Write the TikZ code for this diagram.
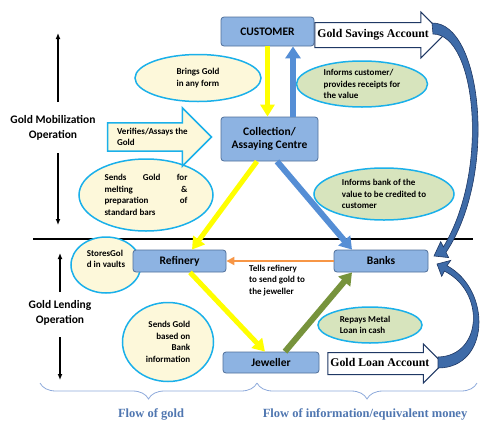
\documentclass[tikz,border=0pt]{standalone}
\usepackage{fontspec}
\setmainfont{Carlito}
\newfontfamily\serifb{Liberation Serif}
\usetikzlibrary{shapes.geometric,shapes.arrows,arrows.meta,decorations.pathreplacing,calc}
\definecolor{boxfill}{HTML}{8DB3E2}
\definecolor{boxline}{HTML}{4F6F9A}
\definecolor{ellyel}{HTML}{FDF8DA}
\definecolor{ellgrn}{HTML}{D7E4BD}
\definecolor{cyanb}{HTML}{1AB0EA}
\definecolor{yarrow}{HTML}{FFFF00}
\definecolor{barrow}{HTML}{558ED5}
\definecolor{garrow}{HTML}{77933C}
\definecolor{oarrow}{HTML}{F79646}
\definecolor{navy}{HTML}{1F3864}
\definecolor{curvb}{HTML}{3E6BA8}
\definecolor{bracec}{HTML}{8EAADB}
\definecolor{flowtxt}{HTML}{4F76B0}
\begin{document}
\begin{tikzpicture}[x=1pt,y=-1pt,
  box/.style={draw=boxline,fill=boxfill,rounded corners=3pt,line width=0.8pt,inner sep=0pt,
    font=\fontsize{11.5}{13}\selectfont\bfseries},
  ell/.style={ellipse,draw=cyanb,line width=1.5pt,inner sep=0pt,font=\fontsize{9}{11.5}\selectfont\bfseries},
  yell/.style={ell,fill=ellyel},
  gell/.style={ell,fill=ellgrn},
  small/.style={inner sep=0pt,font=\fontsize{9}{11.5}\selectfont\bfseries},
  lab/.style={inner sep=0pt,align=center,font=\fontsize{11.5}{15}\selectfont\bfseries},
  acct/.style={single arrow,draw=navy,fill=white,line width=1pt,inner xsep=2pt,
    font=\fontsize{11.8}{13}\selectfont\serifb\bfseries,text height=8pt,text depth=2.5pt},
  yarr/.style={draw=yarrow,line width=5pt,-{Triangle[width=14pt,length=12pt]}},
  barr/.style={draw=barrow,line width=6pt,-{Triangle[width=15pt,length=12pt]}},
  garr/.style={draw=garrow,line width=6pt,-{Triangle[width=15pt,length=12pt]}},
  oarr/.style={draw=oarrow,line width=2.5pt,-{Triangle[width=8pt,length=8pt]}},
  blk/.style={draw=black,line width=1.3pt,-{Latex[length=6pt,width=5pt]}},
  bracest/.style={draw=bracec,line width=0.8pt,decorate,decoration={brace,mirror,amplitude=16pt}},
  flow/.style={inner sep=0pt,text=flowtxt,font=\fontsize{12.5}{14}\selectfont\serifb\bfseries},
  curv/.style={fill=curvb,draw=navy,line width=0.6pt}]
\useasboundingbox (0,0) rectangle (485,437);

% separator
\coordinate (sepL) at (33,239);
\coordinate (sepR) at (473,239);
\draw[line width=1.5pt] (sepL) -- (sepR);

% ellipses
\node[yell,minimum width=126pt,minimum height=47pt,align=left] (e1) at (198,78) {Brings Gold\\in any form};
\node[gell,minimum width=131pt,minimum height=46pt,align=left] (e2) at (362,84) {Informs customer/\\provides receipts for\\the value};
\node[yell,minimum width=134pt,minimum height=72pt,align=left] (e3) at (146,195)
  {\makebox[83pt][s]{Sends\hfill Gold\hfill for}\\\makebox[83pt][s]{melting\hfill \&}\\\makebox[83pt][s]{preparation\hfill of}\\standard bars};
\node[gell,minimum width=140pt,minimum height=52pt,align=left] (e4) at (384,194) {Informs bank of the\\value to be credited to\\customer};
\node[yell,minimum width=70pt,minimum height=56pt] (e5) at (106,265) {};
\node[small,align=left] (t5) at ([yshift=6pt]e5.center) {StoresGol\\d in vaults};
\node[yell,minimum width=91pt,minimum height=79pt,align=right] (e6) at (168,342) {Sends Gold\\based on\\Bank\\information};
\node[gell,minimum width=104pt,minimum height=36pt] (e7) at (370,325) {};
\node[small,align=left] (t7) at ([xshift=-5pt]e7.center) {Repays Metal\\Loan in cash};

% boxes
\node[box,minimum width=93pt,minimum height=29pt] (cust) at (267.5,31.5) {CUSTOMER};
\node[box,minimum width=97pt,minimum height=44pt,align=center] (coll) at (269.5,139) {Collection/\\Assaying Centre};
\node[box,minimum width=93pt,minimum height=22pt] (ref) at (179.5,261) {Refinery};
\node[box,minimum width=94pt,minimum height=22pt] (bank) at (381,261) {Banks};
\node[box,minimum width=96pt,minimum height=21pt] (jew) at (271,362.5) {Jeweller};

% verifies arrow
\node[single arrow,draw=cyanb,fill=ellyel,line width=1.5pt,small,align=left,
  single arrow head extend=15pt,minimum height=104pt,inner ysep=4.5pt,inner xsep=2pt,anchor=tip]
  (ver) at ([xshift=-8pt,yshift=2pt]coll.west) {Verifies/Assays the\\Gold};

% account arrows
\node[acct,single arrow head extend=10.5pt,minimum height=119pt,inner ysep=6.75pt,anchor=tail]
  (sav) at ([yshift=-3.5pt]cust.east) {Gold Savings Account};
\node[acct,single arrow head extend=8.5pt,minimum height=111pt,inner ysep=5.25pt,anchor=tail]
  (loan) at ([xshift=8pt,yshift=-1pt]jew.east) {Gold Loan Account};

% flow arrows
\draw[yarr] (cust.south) -- (coll.north -| cust.south);
\draw[barr] ([xshift=25.5pt]coll.north -| cust.south) -- ([xshift=25.5pt]cust.south);
\draw[yarr] ([xshift=-12.5pt]coll.south) -- ([xshift=12.5pt]ref.north);
\draw[barr] ([xshift=7.5pt]coll.south) -- ([xshift=-29pt]bank.north);
\draw[yarr] ([xshift=10.5pt]ref.south) -- ([xshift=-6pt]jew.north);
\draw[garr] ([xshift=14pt]jew.north) -- ([xshift=-29pt]bank.south);
\draw[oarr] (bank.west) -- (ref.east);
\node[small,align=left,anchor=west] (tell) at (249,280.5) {Tells refinery\\to send gold to\\the jeweller};

% curved arrows
\draw[curv] (432,23) .. controls (482,22) and (498,175) .. (446,252.3) -- (448.7,257.6) -- (434,256)
  -- (440.7,241.6) -- (443.4,246.9) .. controls (490,170) and (476,34) .. (433,34) -- cycle;
\draw[curv] (438,368) .. controls (490,368) and (492,290) .. (447,265.7) -- (450.7,260.4) -- (437,264)
  -- (441.7,276.4) -- (444.4,271.1) .. controls (486,292) and (482,356) .. (438,357) -- cycle;

% left labels
\node[lab] (mob) at (53,127.5) {Gold Mobilization\\Operation};
\coordinate (m1) at (58,102); \coordinate (m1t) at (58,33);
\coordinate (m2) at (58,153); \coordinate (m2t) at (58,225);
\draw[blk] (m1) -- (m1t);
\draw[blk] (m2) -- (m2t);
\node[lab] (lend) at (60,313) {Gold Lending\\Operation};
\coordinate (l1) at (60,292); \coordinate (l1t) at (60,253);
\coordinate (l2) at (60,337); \coordinate (l2t) at (60,380);
\draw[blk] (l1) -- (l1t);
\draw[blk] (l2) -- (l2t);

% braces
\coordinate (b1) at (40,383); \coordinate (b2) at (257,383); \coordinate (b3) at (477,383);
\draw[bracest] (b1) -- (b2);
\draw[bracest] (b2) -- (b3);
\node[flow] (fg) at (151,414) {Flow of gold};
\node[flow] (fi) at (365,414) {Flow of information/equivalent money};
\end{tikzpicture}
\end{document}
